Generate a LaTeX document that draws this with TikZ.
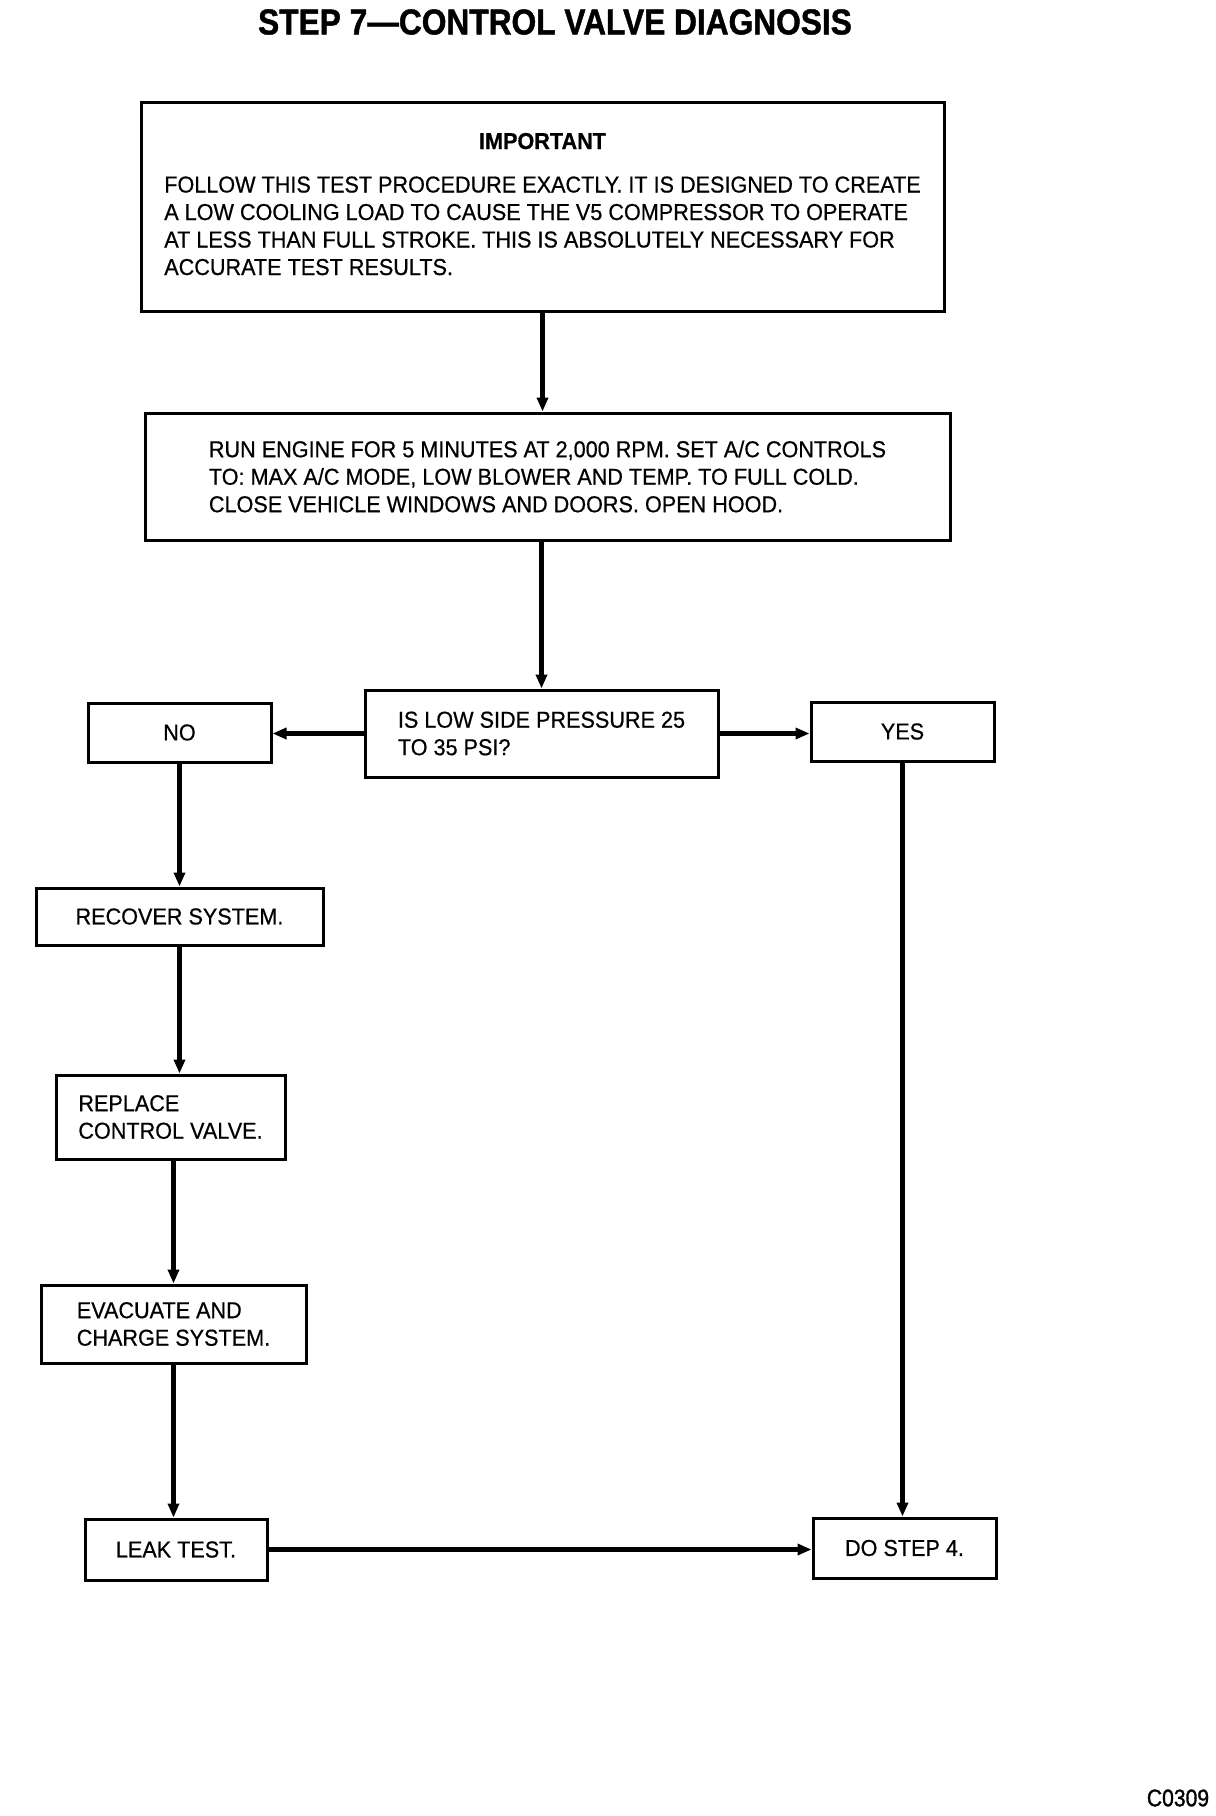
\documentclass[tikz,border=0pt]{standalone}
\usepackage{fontspec}
\setmainfont{Liberation Sans}[FakeStretch=0.94, FakeBold=0.6]
\newfontfamily\headfont{Liberation Sans}[FakeStretch=0.88, FakeBold=1.2]
\usetikzlibrary{arrows.meta}

\begin{document}
\begin{tikzpicture}[x=1pt, y=-1pt,
        font=\fontsize{23}{27.5}\selectfont,
        box/.style={draw, line width=3pt, align=left, inner sep=0pt},
        smallbox/.style={draw, line width=3pt, align=center, inner sep=0pt},
        link/.style={->, line width=4.2pt},
        >={Triangle[length=14pt, width=11pt]}]

        \useasboundingbox (0,0) rectangle (1216,1816);

        % Title
        \node[font=\headfont\bfseries\fontsize{36}{40}\selectfont] (title) at (555,22) {STEP 7—CONTROL VALVE DIAGNOSIS};

        % Nodes
        \node[box, minimum width=803pt, minimum height=209pt] (important) at (542.5,206.5)
            {\begin{tabular}{@{}l@{}}
             \multicolumn{1}{@{}c@{}}{\textbf{IMPORTANT}}\\[16pt]
             FOLLOW THIS TEST PROCEDURE EXACTLY. IT IS DESIGNED TO CREATE\\
             A LOW COOLING LOAD TO CAUSE THE V5 COMPRESSOR TO OPERATE\\
             AT LESS THAN FULL STROKE. THIS IS ABSOLUTELY NECESSARY FOR\\
             ACCURATE TEST RESULTS.
             \end{tabular}};

        \node[box, minimum width=805pt, minimum height=127pt] (engine) at (547.5,476.5)
            {RUN ENGINE FOR 5 MINUTES AT 2,000 RPM. SET A/C CONTROLS\\
             TO: MAX A/C MODE, LOW BLOWER AND TEMP. TO FULL COLD.\\
             CLOSE VEHICLE WINDOWS AND DOORS. OPEN HOOD.};

        \node[box, minimum width=353pt, minimum height=87pt] (pressure) at (541.5,733.5) {IS LOW SIDE PRESSURE 25\\TO 35 PSI?};

        \node[smallbox, minimum width=183pt, minimum height=59pt] (no) at (179.5,732.5) {NO};
        \node[smallbox, minimum width=183pt, minimum height=59pt] (yes) at (902.5,731.5) {YES};

        \node[smallbox, minimum width=287pt, minimum height=57pt] (recover) at (179.5,916.5) {RECOVER SYSTEM.};
        \node[box, minimum width=229pt, minimum height=84pt] (valve) at (170.5,1117) {REPLACE\\CONTROL VALVE.};
        \node[box, minimum width=265pt, minimum height=78pt] (evacuate) at (173.5,1324) {EVACUATE AND\\CHARGE SYSTEM.};
        \node[smallbox, minimum width=182pt, minimum height=61pt] (leak) at (176,1549.5) {LEAK TEST.};
        \node[smallbox, minimum width=183pt, minimum height=60pt] (step4) at (904.5,1548) {DO STEP 4.};

        \node[font=\headfont\fontsize{24}{28}\selectfont] (code) at (1178,1798) {C0309};

        % Edges
        \draw[link] (important.south) -- (important.south |- engine.north);
        \draw[link] (pressure.north |- engine.south) -- (pressure.north);
        \draw[link] (pressure.west) -- (pressure.west -| no.east);
        \draw[link] (pressure.east) -- (pressure.east -| yes.west);
        \draw[link] (no.south) -- (no.south |- recover.north);
        \draw[link] (recover.south) -- (recover.south |- valve.north);
        \draw[link] (evacuate.north |- valve.south) -- (evacuate.north);
        \draw[link] (evacuate.south) -- (evacuate.south |- leak.north);
        \draw[link] (yes.south) -- (yes.south |- step4.north);
        \draw[link] (leak.east) -- (leak.east -| step4.west);

    \end{tikzpicture}
\end{document}
